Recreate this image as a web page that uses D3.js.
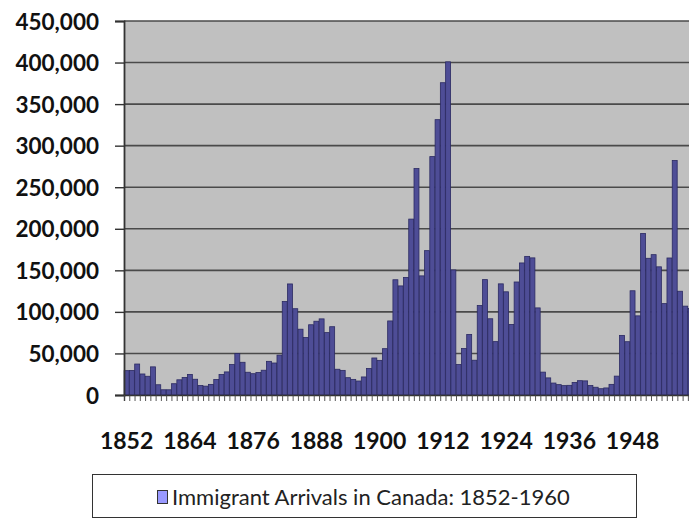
<!DOCTYPE html>
<html>
<head>
<meta charset="utf-8">
<script src="https://cdn.jsdelivr.net/npm/d3@7"></script>
<style>
  html, body { margin: 0; padding: 0; background: #fff; }
  svg { display: block; }
</style>
</head>
<body>
<svg id="chart" width="689" height="520"></svg>
<script>
// Annual immigrant arrivals in Canada (1950 is not part of the series)
const years = [
  1852,1853,1854,1855,1856,1857,1858,1859,1860,1861,1862,1863,1864,1865,1866,1867,1868,1869,1870,1871,
  1872,1873,1874,1875,1876,1877,1878,1879,1880,1881,1882,1883,1884,1885,1886,1887,1888,1889,1890,1891,
  1892,1893,1894,1895,1896,1897,1898,1899,1900,1901,1902,1903,1904,1905,1906,1907,1908,1909,1910,1911,
  1912,1913,1914,1915,1916,1917,1918,1919,1920,1921,1922,1923,1924,1925,1926,1927,1928,1929,1930,1931,
  1932,1933,1934,1935,1936,1937,1938,1939,1940,1941,1942,1943,1944,1945,1946,1947,1948,1949,1951,1952,
  1953,1954,1955,1956,1957,1958,1959,1960
];
const arrivals = [
  29307,29464,37263,25296,22544,33854,12339,6300,6276,13589,18294,21000,24779,18958,11427,10666,12765,18630,24706,27773,
  36578,50050,39373,27382,25633,27082,29807,40492,38505,47991,112458,133624,103824,79169,69152,84526,88766,91600,75067,82165,
  30996,29633,20829,18790,16835,21716,31900,44543,41681,55747,89102,138660,131252,141465,211653,272409,143326,173694,286839,331288,
  375756,400870,150484,36665,55914,72910,41845,107698,138824,91728,64224,133729,124164,84907,135982,158886,166783,164993,104806,27530,
  20591,14382,12476,11277,11643,15101,17244,16994,11324,9329,7576,8504,12801,22722,71719,64127,125414,95217,194391,164498,
  168868,154227,109946,164857,282164,124851,106928,104111
];
const yTicks = [0, 50000, 100000, 150000, 200000, 250000, 300000, 350000, 400000, 450000];
const labelYears = [1852, 1864, 1876, 1888, 1900, 1912, 1924, 1936, 1948];
const seriesName = "Immigrant Arrivals in Canada: 1852-1960";

const svg = d3.select("#chart");
const plotLeft = 124, plotTop = 21, plotBottom = 395;
const step = 5.27;
const plotRight = plotLeft + years.length * step;

const x = d3.scaleBand().domain(years).range([plotLeft, plotRight]).paddingInner(0.06).paddingOuter(0.03);
const xi = d3.scaleLinear().domain([0, years.length]).range([plotLeft, plotRight]);
const y = d3.scaleLinear().domain([0, 450000]).range([plotBottom, plotTop]);

// plot area
svg.append("rect")
  .attr("x", plotLeft).attr("y", plotTop)
  .attr("width", plotRight - plotLeft).attr("height", plotBottom - plotTop)
  .attr("fill", "#c0c0c0");

// horizontal gridlines
svg.append("g")
  .selectAll("line")
  .data(yTicks.filter(v => v > 0))
  .join("line")
  .attr("x1", plotLeft).attr("x2", plotRight)
  .attr("y1", d => y(d)).attr("y2", d => y(d))
  .attr("stroke", "#4a4a4a").attr("stroke-width", 1.6);

// bars
svg.append("g")
  .selectAll("rect")
  .data(years.map((yr, i) => ({ yr, v: arrivals[i] })))
  .join("rect")
  .attr("x", d => x(d.yr))
  .attr("y", d => y(d.v))
  .attr("width", x.bandwidth())
  .attr("height", d => y(0) - y(d.v))
  .attr("fill", "#4e4d96")
  .attr("stroke", "#2b2a62")
  .attr("stroke-width", 0.8);

// y axis
const yAxis = svg.append("g")
  .attr("transform", `translate(${plotLeft},0)`)
  .call(d3.axisLeft(y).tickValues(yTicks).tickSize(9).tickPadding(16).tickFormat(d3.format(",")));
yAxis.select(".domain").attr("stroke", "#333").attr("stroke-width", 1.8);
yAxis.selectAll(".tick line").attr("stroke", "#333").attr("stroke-width", 1.4);
yAxis.selectAll(".tick text")
  .attr("font-family", "Lato, 'DejaVu Sans', sans-serif")
  .attr("font-weight", "bold")
  .attr("font-size", "22.5px")
  .attr("fill", "#111")
  .attr("dy", "0.36em");

// x axis: category ticks between bars
const xAxis = svg.append("g")
  .attr("transform", `translate(0,${plotBottom})`)
  .call(d3.axisBottom(xi).tickValues(d3.range(0, years.length + 1)).tickSize(6).tickFormat(""));
xAxis.select(".domain").attr("stroke", "#333").attr("stroke-width", 1.4);
xAxis.selectAll(".tick line").attr("stroke", "#444").attr("stroke-width", 0.9);

// year labels
svg.append("g")
  .selectAll("text")
  .data(labelYears)
  .join("text")
  .attr("x", d => x(d) + x.bandwidth() / 2)
  .attr("y", 449)
  .attr("text-anchor", "middle")
  .attr("font-family", "Lato, 'DejaVu Sans', sans-serif")
  .attr("font-weight", "bold")
  .attr("font-size", "23px")
  .attr("fill", "#111")
  .text(d => d);

// legend
const legend = svg.append("g");
legend.append("rect")
  .attr("x", 92.5).attr("y", 474.5)
  .attr("width", 544).attr("height", 43)
  .attr("fill", "#fff").attr("stroke", "#333").attr("stroke-width", 1);
legend.append("rect")
  .attr("x", 157.5).attr("y", 490.5)
  .attr("width", 10).attr("height", 13)
  .attr("fill", "#9999ff").attr("stroke", "#333").attr("stroke-width", 1);
legend.append("text")
  .attr("x", 172).attr("y", 504.5)
  .attr("font-family", "Lato, 'DejaVu Sans', sans-serif")
  .attr("font-size", "22px")
  .attr("fill", "#222")
  .text(seriesName);
</script>
</body>
</html>
